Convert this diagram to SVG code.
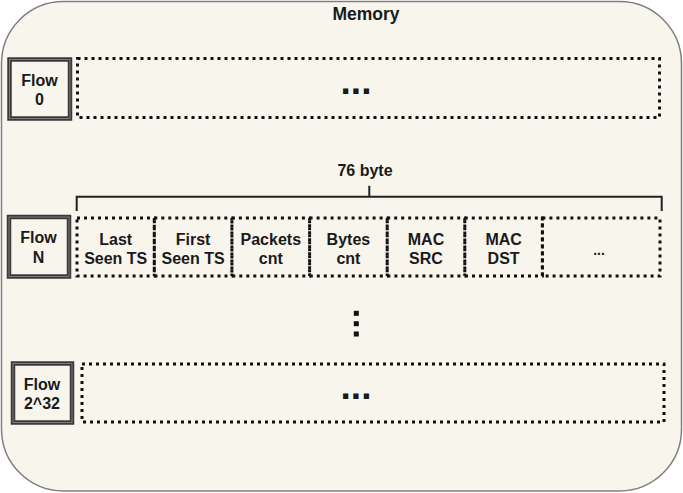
<svg xmlns="http://www.w3.org/2000/svg" width="683" height="493" viewBox="0 0 683 493">
<style>
text{font-family:"Liberation Sans",Arial,sans-serif;font-weight:bold;fill:#1a1a1a;text-anchor:middle}
.t{font-size:16px}
.dotted{fill:none;stroke:#111;stroke-width:3;stroke-dasharray:3 4}
.fo{fill:none;stroke:#3a3a3a;stroke-width:4.5}
.fi{fill:none;stroke:#8a8a8a;stroke-width:0.8}
.big{font-size:37px}
.br{fill:none;stroke:#222;stroke-width:2}
</style>
<g id="memory">
<rect x="1.5" y="1.5" width="680" height="489.5" rx="62" ry="62" fill="#f8f5ed" stroke="#7f7f7f" stroke-width="1.5"/>
<text x="366" y="20" style="font-size:17.5px">Memory</text>
</g>
<g id="flow0">
<rect class="fo" x="9.5" y="59.5" width="60.5" height="59"/>
<rect class="fi" x="9.5" y="59.5" width="60.5" height="59"/>
<text class="t" x="39.5" y="86">Flow</text>
<text class="t" x="39.5" y="104.5">0</text>
</g>
<g id="row0">
<rect class="dotted" x="77.5" y="58.5" width="582" height="59"/>
<text class="big" x="356" y="94">...</text>
</g>
<g id="flowN">
<rect class="fo" x="9" y="217" width="60" height="59.5"/>
<rect class="fi" x="9" y="217" width="60" height="59.5"/>
<text class="t" x="38.5" y="243">Flow</text>
<text class="t" x="38.5" y="262.5">N</text>
</g>
<g id="fields">
<rect class="dotted" x="77" y="218" width="77.3" height="58"/>
<rect class="dotted" x="154.3" y="218" width="77.6" height="58"/>
<rect class="dotted" x="231.9" y="218" width="77.7" height="58"/>
<rect class="dotted" x="309.6" y="218" width="77.6" height="58"/>
<rect class="dotted" x="387.2" y="218" width="77.6" height="58"/>
<rect class="dotted" x="464.8" y="218" width="77.6" height="58"/>
<rect class="dotted" x="542.4" y="218" width="117.6" height="58"/>
<text class="t" x="115.7" y="245">Last</text>
<text class="t" x="115.7" y="263.5">Seen TS</text>
<text class="t" x="193.1" y="245">First</text>
<text class="t" x="193.1" y="263.5">Seen TS</text>
<text class="t" x="270.8" y="245">Packets</text>
<text class="t" x="270.8" y="263.5">cnt</text>
<text class="t" x="348.4" y="245">Bytes</text>
<text class="t" x="348.4" y="263.5">cnt</text>
<text class="t" x="426" y="245">MAC</text>
<text class="t" x="426" y="263.5">SRC</text>
<text class="t" x="503.6" y="245">MAC</text>
<text class="t" x="503.6" y="263.5">DST</text>
<text x="599" y="255" style="font-size:14px">...</text>
</g>
<g id="bracket">
<path class="br" d="M76.7 211V196.7H661.7V211M369.3 196.7V185.7"/>
<text class="t" x="365" y="176">76 byte</text>
</g>
<g id="vdots" fill="#111">
<rect x="353.8" y="310.8" width="5" height="5"/>
<rect x="353.8" y="321.2" width="5" height="5"/>
<rect x="353.8" y="331.5" width="5" height="5"/>
</g>
<g id="flow2_32">
<rect class="fo" x="13" y="363.5" width="59" height="59"/>
<rect class="fi" x="13" y="363.5" width="59" height="59"/>
<text class="t" x="42" y="389.5">Flow</text>
<text class="t" x="42" y="408.5">2^32</text>
</g>
<g id="row2">
<rect class="dotted" x="82" y="364" width="582" height="58"/>
<text class="big" x="356" y="398.5">...</text>
</g>
</svg>
